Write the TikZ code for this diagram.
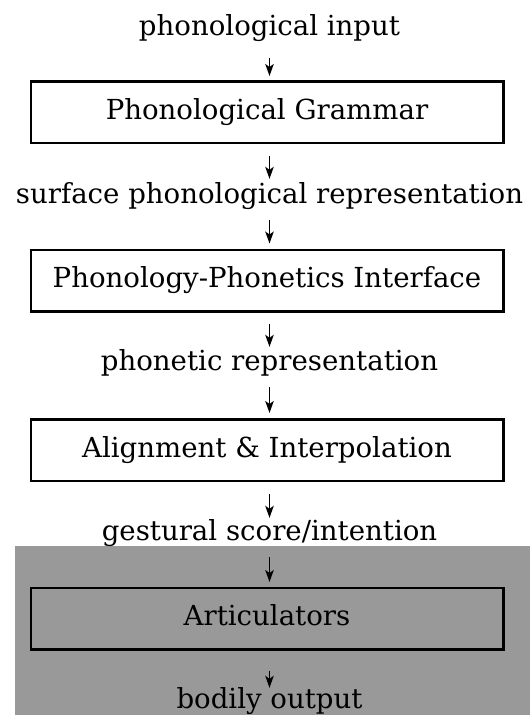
\documentclass[tikz,border=0pt]{standalone}
\usepackage{fontspec}
\setmainfont{DejaVu Serif}
\usetikzlibrary{arrows.meta}
\definecolor{panel}{gray}{0.6}
\begin{document}
\begin{tikzpicture}[x=1pt,y=-1pt,
  every node/.style={font=\fontsize{27.6}{32}\selectfont, inner sep=0pt},
  label/.style={anchor=base, text height=20pt, text depth=6pt},
  stage/.style={draw, line width=2.5pt, minimum width=472.5pt, minimum height=61.5pt,
    text height=20pt, text depth=6pt},
  flow/.style={line width=1.6pt, -{Stealth[length=12pt,width=8.5pt,inset=3pt]}}]
\useasboundingbox (0,0) rectangle (530,715);
% shaded region for the physical stage
\fill[panel] (15,546) rectangle (530,715);

\node[label] (in) at (269.5,35) {phonological input};
\node[stage] (g1) at (267,112) {Phonological Grammar};
\node[label] (sp) at (269.5,203) {surface phonological representation};
\node[stage] (g2) at (267,280.5) {Phonology-Phonetics Interface};
\node[label] (ph) at (269.5,370) {phonetic representation};
\node[stage] (g3) at (267,450) {Alignment \& Interpolation};
\node[label] (gs) at (269.5,540) {gestural score/intention};
\node[stage, fill=panel] (g4) at (267,618.5) {Articulators};
\node[label] (out) at (269.5,708) {bodily output};

\draw[flow, shorten <=17pt, shorten >=4pt] (in.south) -- (in.south |- g1.north);
\draw[flow, shorten <=12pt, shorten >=4pt] (g1.south -| sp.north) -- (sp.north);
\draw[flow, shorten <=11pt, shorten >=5pt] (sp.south) -- (sp.south |- g2.north);
\draw[flow, shorten <=11pt, shorten >=3pt] (g2.south -| ph.north) -- (ph.north);
\draw[flow, shorten <=11pt, shorten >=5pt] (ph.south) -- (ph.south |- g3.north);
\draw[flow, shorten <=12pt, shorten >=2pt] (g3.south -| gs.north) -- (gs.north);
\draw[flow, shorten <=11pt, shorten >=4.5pt] (gs.south) -- (gs.south |- g4.north);
\draw[flow, shorten <=20pt] (g4.south -| out.north) -- (out.north);
\end{tikzpicture}
\end{document}
